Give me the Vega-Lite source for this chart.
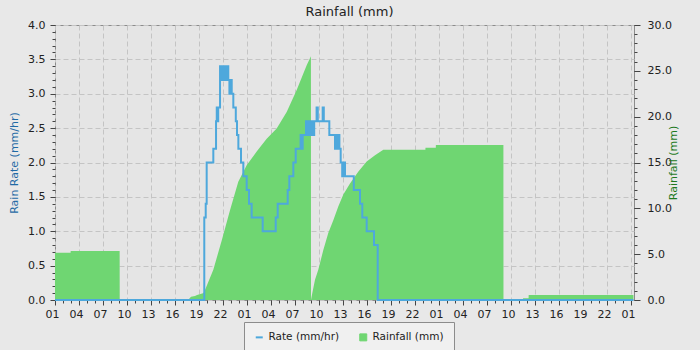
{
  "$schema": "https://vega.github.io/schema/vega-lite/v6.json",
  "width": 579,
  "height": 275,
  "autosize": {"type": "none"},
  "padding": {"left": 55, "top": 25, "right": 66, "bottom": 50},
  "background": "#e8e8e8",
  "title": {"text": "Rainfall (mm)", "font": "DejaVu Sans", "fontSize": 13, "fontWeight": "normal", "color": "#222222", "offset": 0, "dx": 5},
  "config": {
    "view": {"fill": "#e5e5e5", "stroke": "#8c8c8c", "strokeWidth": 1},
    "axis": {"labelFont": "DejaVu Sans", "labelFontSize": 11, "labelColor": "#222222", "titleFont": "DejaVu Sans", "titleFontSize": 11, "titleFontWeight": "normal", "tickColor": "#444444", "domain": false, "gridColor": "#c4c4c4", "gridDash": [5, 3], "gridWidth": 1, "labelFlush": false, "labelOverlap": false}
  },
  "datasets": {
    "rain": [
      {"h": 0, "mm": 5.16}, {"h": 1.95, "mm": 5.16}, {"h": 1.96, "mm": 5.35}, {"h": 8.08, "mm": 5.35}, {"h": 8.09, "mm": 0},
      {"h": 16.7, "mm": 0}, {"h": 16.75, "mm": 0.1}, {"h": 17.0, "mm": 0.36}, {"h": 17.5, "mm": 0.45}, {"h": 17.75, "mm": 0.55},
      {"h": 18.5, "mm": 0.75}, {"h": 18.66, "mm": 0.9}, {"h": 19.79, "mm": 3.3}, {"h": 20.84, "mm": 6.5}, {"h": 21.875, "mm": 9.8},
      {"h": 22.91, "mm": 12.9}, {"h": 23.96, "mm": 14.7}, {"h": 25.21, "mm": 16.2}, {"h": 26.46, "mm": 17.6}, {"h": 27.71, "mm": 18.7},
      {"h": 28.96, "mm": 20.5}, {"h": 30.21, "mm": 22.9}, {"h": 31.46, "mm": 25.6}, {"h": 31.99, "mm": 26.6}, {"h": 32.0, "mm": 0},
      {"h": 32.16, "mm": 0.73}, {"h": 32.5, "mm": 2.2}, {"h": 32.91, "mm": 3.3}, {"h": 33.54, "mm": 5.45}, {"h": 34.16, "mm": 7.3},
      {"h": 34.79, "mm": 8.7}, {"h": 35.41, "mm": 10.2}, {"h": 36.04, "mm": 11.5}, {"h": 36.875, "mm": 12.7}, {"h": 37.9, "mm": 14.0},
      {"h": 38.96, "mm": 15.1}, {"h": 40.0, "mm": 15.8}, {"h": 41.04, "mm": 16.4}, {"h": 46.3, "mm": 16.4}, {"h": 46.31, "mm": 16.6},
      {"h": 47.6, "mm": 16.6}, {"h": 47.61, "mm": 16.9}, {"h": 56.05, "mm": 16.9}, {"h": 56.06, "mm": 0}, {"h": 58.5, "mm": 0},
      {"h": 58.51, "mm": 0.2}, {"h": 59.2, "mm": 0.2}, {"h": 59.21, "mm": 0.55}, {"h": 72.3, "mm": 0.55}
    ],
    "rate": [
      {"h": 0, "r": 0}, {"h": 18.66, "r": 1.2}, {"h": 18.84, "r": 1.4}, {"h": 18.96, "r": 2.0}, {"h": 19.79, "r": 2.2},
      {"h": 20.13, "r": 2.6}, {"h": 20.22, "r": 2.8}, {"h": 20.3, "r": 2.6}, {"h": 20.4, "r": 2.8}, {"h": 20.63, "r": 3.4},
      {"h": 20.75, "r": 3.2}, {"h": 20.85, "r": 3.4}, {"h": 21.0, "r": 3.2}, {"h": 21.08, "r": 3.4}, {"h": 21.3, "r": 3.2},
      {"h": 21.38, "r": 3.4}, {"h": 21.5, "r": 3.2}, {"h": 21.58, "r": 3.4}, {"h": 21.66, "r": 3.2}, {"h": 21.8, "r": 3.0},
      {"h": 21.9, "r": 3.2}, {"h": 22.09, "r": 3.0}, {"h": 22.29, "r": 2.8}, {"h": 22.6, "r": 2.6}, {"h": 22.75, "r": 2.4},
      {"h": 22.92, "r": 2.2}, {"h": 23.25, "r": 2.0}, {"h": 23.54, "r": 1.8}, {"h": 23.96, "r": 1.6}, {"h": 24.25, "r": 1.4},
      {"h": 24.58, "r": 1.2}, {"h": 25.96, "r": 1.0}, {"h": 27.59, "r": 1.2}, {"h": 27.84, "r": 1.4}, {"h": 29.09, "r": 1.6},
      {"h": 29.29, "r": 1.8}, {"h": 29.79, "r": 2.0}, {"h": 30.09, "r": 2.2}, {"h": 30.7, "r": 2.4}, {"h": 30.8, "r": 2.2},
      {"h": 30.96, "r": 2.4}, {"h": 31.375, "r": 2.6}, {"h": 31.5, "r": 2.4}, {"h": 31.6, "r": 2.6}, {"h": 31.75, "r": 2.4},
      {"h": 31.85, "r": 2.6}, {"h": 32.0, "r": 2.4}, {"h": 32.15, "r": 2.6}, {"h": 32.3, "r": 2.4}, {"h": 32.4, "r": 2.6},
      {"h": 32.7, "r": 2.8}, {"h": 32.85, "r": 2.6}, {"h": 33.46, "r": 2.8}, {"h": 33.6, "r": 2.6}, {"h": 34.29, "r": 2.4},
      {"h": 35.0, "r": 2.2}, {"h": 35.08, "r": 2.4}, {"h": 35.3, "r": 2.2}, {"h": 35.4, "r": 2.4}, {"h": 35.55, "r": 2.2},
      {"h": 35.71, "r": 2.0}, {"h": 35.9, "r": 1.8}, {"h": 36.0, "r": 2.0}, {"h": 36.25, "r": 1.8}, {"h": 37.35, "r": 1.6},
      {"h": 38.125, "r": 1.4}, {"h": 38.41, "r": 1.2}, {"h": 38.96, "r": 1.0}, {"h": 39.875, "r": 0.8}, {"h": 40.34, "r": 0},
      {"h": 72.3, "r": 0}
    ]
  },
  "layer": [
    {
      "data": {"name": "rain"},
      "mark": {"type": "area", "interpolate": "linear", "opacity": 1},
      "encoding": {
        "x": {"field": "h", "type": "quantitative", "scale": {"domain": [0, 72.375], "nice": false, "zero": false}, "axis": null},
        "y": {"field": "mm", "type": "quantitative", "scale": {"domain": [0, 30], "nice": false},
          "axis": {"orient": "right", "values": [0, 5, 10, 15, 20, 25, 30], "format": ".1f", "tickSize": 6, "labelPadding": 7, "grid": false,
            "title": "Rainfall (mm)", "titleColor": "#1e7a1e", "titleAngle": 270, "titleX": 39, "titleY": 137.5, "titleAlign": "center", "titleBaseline": "middle"}},
        "color": {"datum": "Rainfall (mm)", "type": "nominal",
          "scale": {"domain": ["Rate (mm/hr)", "Rainfall (mm)"], "range": ["#4ea8dc", "#6fd672"]},
          "legend": {"orient": "none", "legendX": 189, "legendY": 297, "direction": "horizontal", "title": null,
            "padding": 10, "fillColor": "#f0f0f0", "strokeColor": "#8c8c8c", "labelFont": "DejaVu Sans", "labelFontSize": 10.5, "labelColor": "#222222",
            "symbolSize": 49, "labelOffset": 4, "columnPadding": 17, "symbolType": "square",
            "encode": {"symbols": {"update": {
              "shape": {"signal": "datum.value === 'Rate (mm/hr)' ? 'stroke' : 'square'"},
              "stroke": {"signal": "datum.value === 'Rate (mm/hr)' ? '#4ea8dc' : '#777777'"},
              "strokeWidth": {"signal": "datum.value === 'Rate (mm/hr)' ? 2 : 1"},
              "fill": {"signal": "datum.value === 'Rate (mm/hr)' ? 'transparent' : '#6fd672'"},
              "opacity": {"value": 1}, "fillOpacity": {"value": 1}, "strokeOpacity": {"value": 1}}}}}}
      }
    },
    {
      "data": {"name": "rain"},
      "mark": {"type": "point", "opacity": 0},
      "encoding": {
        "x": {"field": "h", "type": "quantitative", "scale": {"domain": [0, 72.375], "nice": false, "zero": false}, "axis": null},
        "y": {"field": "mm", "type": "quantitative", "scale": {"domain": [0, 30], "nice": false},
          "axis": {"orient": "right", "values": [0,1,2,3,4,5,6,7,8,9,10,11,12,13,14,15,16,17,18,19,20,21,22,23,24,25,26,27,28,29,30], "labels": false, "tickSize": 3, "grid": false, "title": null}}
      }
    },
    {
      "data": {"name": "rate"},
      "mark": {"type": "line", "interpolate": "step-after", "strokeWidth": 2},
      "encoding": {
        "x": {"field": "h", "type": "quantitative", "scale": {"domain": [0, 72.375], "nice": false, "zero": false},
          "axis": {"orient": "bottom", "values": [0,3,6,9,12,15,18,21,24,27,30,33,36,39,42,45,48,51,54,57,60,63,66,69,72], "tickSize": 5, "labelPadding": 3, "labelOffset": -3, "grid": true, "title": null,
            "labelExpr": "(((datum.value + 1) % 24) < 10 ? '0' : '') + ((datum.value + 1) % 24)"}},
        "y": {"field": "r", "type": "quantitative", "scale": {"domain": [0, 4], "nice": false},
          "axis": {"orient": "left", "values": [0, 0.5, 1, 1.5, 2, 2.5, 3, 3.5, 4], "format": ".1f", "tickSize": 5, "labelPadding": 5, "grid": true,
            "title": "Rain Rate (mm/hr)", "titleColor": "#1f6aa5", "titleAngle": 270, "titleX": -41, "titleY": 137.5, "titleAlign": "center", "titleBaseline": "middle"}},
        "color": {"datum": "Rate (mm/hr)", "type": "nominal",
          "legend": {"orient": "none", "legendX": 189, "legendY": 297, "direction": "horizontal", "title": null,
            "padding": 10, "fillColor": "#f0f0f0", "strokeColor": "#8c8c8c", "labelFont": "DejaVu Sans", "labelFontSize": 10.5, "labelColor": "#222222",
            "symbolSize": 49, "labelOffset": 4, "columnPadding": 17, "symbolType": "square",
            "encode": {"symbols": {"update": {
              "shape": {"signal": "datum.value === 'Rate (mm/hr)' ? 'stroke' : 'square'"},
              "stroke": {"signal": "datum.value === 'Rate (mm/hr)' ? '#4ea8dc' : '#777777'"},
              "strokeWidth": {"signal": "datum.value === 'Rate (mm/hr)' ? 2 : 1"},
              "fill": {"signal": "datum.value === 'Rate (mm/hr)' ? 'transparent' : '#6fd672'"},
              "opacity": {"value": 1}, "fillOpacity": {"value": 1}, "strokeOpacity": {"value": 1}}}}}}
      }
    },
    {
      "data": {"name": "rate"},
      "mark": {"type": "point", "opacity": 0},
      "encoding": {
        "x": {"field": "h", "type": "quantitative", "scale": {"domain": [0, 72.375], "nice": false, "zero": false},
          "axis": {"orient": "bottom", "values": [0,1,2,3,4,5,6,7,8,9,10,11,12,13,14,15,16,17,18,19,20,21,22,23,24,25,26,27,28,29,30,31,32,33,34,35,36,37,38,39,40,41,42,43,44,45,46,47,48,49,50,51,52,53,54,55,56,57,58,59,60,61,62,63,64,65,66,67,68,69,70,71,72], "labels": false, "tickSize": 3, "grid": false, "title": null}},
        "y": {"field": "r", "type": "quantitative", "scale": {"domain": [0, 4], "nice": false},
          "axis": {"orient": "left", "values": [0,0.1,0.2,0.3,0.4,0.5,0.6,0.7,0.8,0.9,1,1.1,1.2,1.3,1.4,1.5,1.6,1.7,1.8,1.9,2,2.1,2.2,2.3,2.4,2.5,2.6,2.7,2.8,2.9,3,3.1,3.2,3.3,3.4,3.5,3.6,3.7,3.8,3.9,4], "labels": false, "tickSize": 3, "grid": false, "title": null}}
      }
    }
  ],
  "resolve": {"scale": {"x": "independent", "y": "independent"}}
}
